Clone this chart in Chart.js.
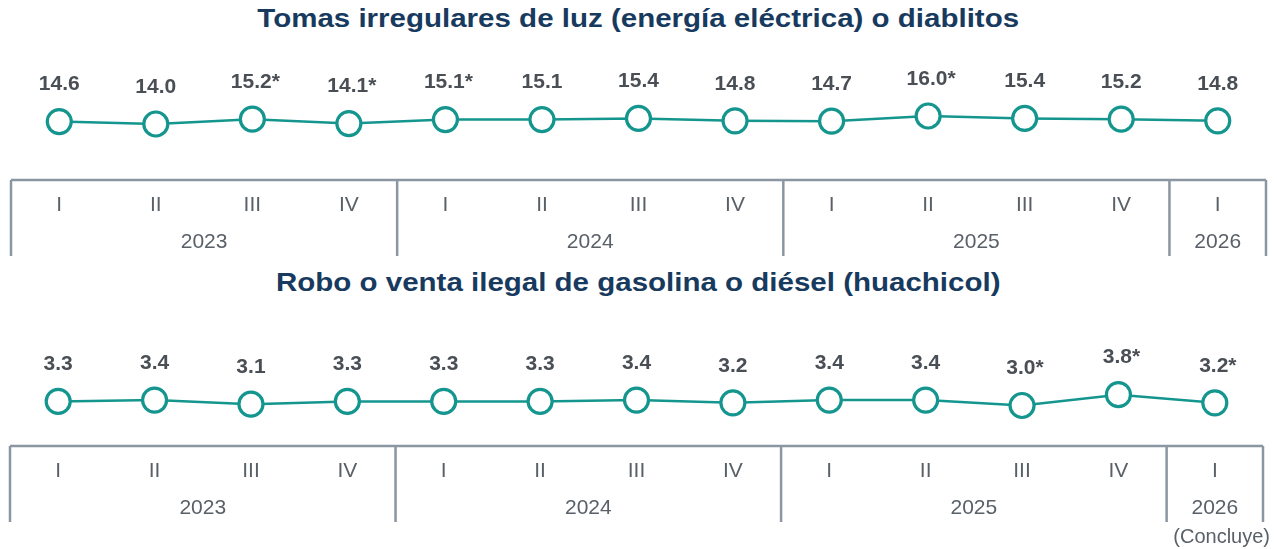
<!DOCTYPE html>
<html lang="es">
<head>
<meta charset="utf-8">
<script src="https://cdn.jsdelivr.net/npm/chart.js@4"></script>
<style>
  html, body { margin: 0; padding: 0; background: #fff; }
  body { width: 1277px; height: 549px; position: relative; overflow: hidden; font-family: "Liberation Sans", Arial, sans-serif; }
  .title { position: absolute; left: 0; width: 1277px; text-align: center; font-weight: bold; font-size: 25px; color: #173a5e; transform: scaleX(1.18); transform-origin: 640px 0; }
  .panel { position: absolute; left: 0; width: 1277px; }
  .note { position: absolute; right: 7px; top: 525px; font-size: 20px; color: #5a6068; }
</style>
</head>
<body>
<div class="title" style="top:4px">Tomas irregulares de luz (energía eléctrica) o diablitos</div>
<div class="panel" style="top:0;height:265px"><canvas id="luz"></canvas></div>
<div class="title" style="top:268px">Robo o venta ilegal de gasolina o diésel (huachicol)</div>
<div class="panel" style="top:265px;height:284px"><canvas id="gas"></canvas></div>
<div class="note">(Concluye)</div>

<script>
// quarters and the year each belongs to
const quarters = ['I', 'II', 'III', 'IV', 'I', 'II', 'III', 'IV', 'I', 'II', 'III', 'IV', 'I'];
const years = ['2023', '2024', '2025', '2026'];
const quartersPerYear = [4, 4, 4, 1];

const luzValues = [14.6, 14.0, 15.2, 14.1, 15.1, 15.1, 15.4, 14.8, 14.7, 16.0, 15.4, 15.2, 14.8];
const luzStar = [false, false, true, true, true, false, false, false, false, true, false, false, false];

const gasValues = [3.3, 3.4, 3.1, 3.3, 3.3, 3.3, 3.4, 3.2, 3.4, 3.4, 3.0, 3.8, 3.2];
const gasStar = [false, false, false, false, false, false, false, false, false, false, true, true, true];

const TEAL = '#14968f';
const AXIS = '#8a96a2';

// value labels above each point
const valueLabels = {
  id: 'valueLabels',
  afterDatasetsDraw(chart, args, opts) {
    const ctx = chart.ctx;
    const meta = chart.getDatasetMeta(0);
    ctx.save();
    ctx.font = 'bold 21px "Liberation Sans", Arial, sans-serif';
    ctx.fillStyle = '#4a4f56';
    ctx.textAlign = 'center';
    ctx.textBaseline = 'middle';
    meta.data.forEach((pt, i) => {
      const v = chart.data.datasets[0].data[i];
      const txt = v.toFixed(1) + (opts.stars[i] ? '*' : '');
      const dx = opts.stars[i] ? 3 : 0;
      ctx.fillText(txt, pt.x + dx, pt.y - 37);
    });
    ctx.restore();
  }
};

// two-level category axis drawn as a box with year separators
const yearAxis = {
  id: 'yearAxis',
  afterDraw(chart) {
    const ctx = chart.ctx;
    const x = chart.scales.x;
    const top = chart.chartArea.bottom;
    const step = x.getPixelForValue(1) - x.getPixelForValue(0);
    const edge = (i) => x.getPixelForValue(0) + (i - 0.5) * step;

    ctx.save();
    ctx.strokeStyle = AXIS;
    ctx.lineWidth = 2.5;
    ctx.beginPath();
    ctx.moveTo(edge(0), top);
    ctx.lineTo(edge(quarters.length), top);
    let idx = 0;
    const bounds = [0];
    quartersPerYear.forEach((n) => { idx += n; bounds.push(idx); });
    bounds.forEach((b) => {
      ctx.moveTo(edge(b), top);
      ctx.lineTo(edge(b), top + 76);
    });
    ctx.stroke();

    ctx.fillStyle = '#5a6068';
    ctx.font = '21px "Liberation Sans", Arial, sans-serif';
    ctx.textAlign = 'center';
    ctx.textBaseline = 'middle';
    quarters.forEach((q, i) => ctx.fillText(q, x.getPixelForValue(i), top + 25));
    years.forEach((y, k) => {
      const mid = (edge(bounds[k]) + edge(bounds[k + 1])) / 2;
      ctx.fillText(y, mid, top + 62);
    });
    ctx.restore();
  }
};

function makeChart(id, values, stars, yMax, pad) {
  return new Chart(document.getElementById(id), {
    type: 'line',
    data: {
      labels: quarters.map((q, i) => q + i),
      datasets: [{
        data: values,
        borderColor: TEAL,
        borderWidth: 2.5,
        tension: 0,
        pointRadius: 12,
        pointHoverRadius: 12,
        pointBorderWidth: 3.2,
        pointBackgroundColor: '#fff',
        pointBorderColor: TEAL,
      }],
    },
    options: {
      responsive: true,
      maintainAspectRatio: false,
      animation: false,
      events: [],
      layout: { padding: pad, autoPadding: false },
      plugins: { legend: { display: false }, tooltip: { enabled: false }, valueLabels: { stars } },
      scales: {
        x: { display: false, offset: true },
        y: { display: false, min: 0, max: yMax },
      },
    },
    plugins: [valueLabels, yearAxis],
  });
}

makeChart('luz', luzValues, luzStar, 30, { top: 60, bottom: 85, left: 11, right: 11 });
makeChart('gas', gasValues, gasStar, 121 / 13.5, { top: 60, bottom: 103, left: 10, right: 14 });
</script>
</body>
</html>
